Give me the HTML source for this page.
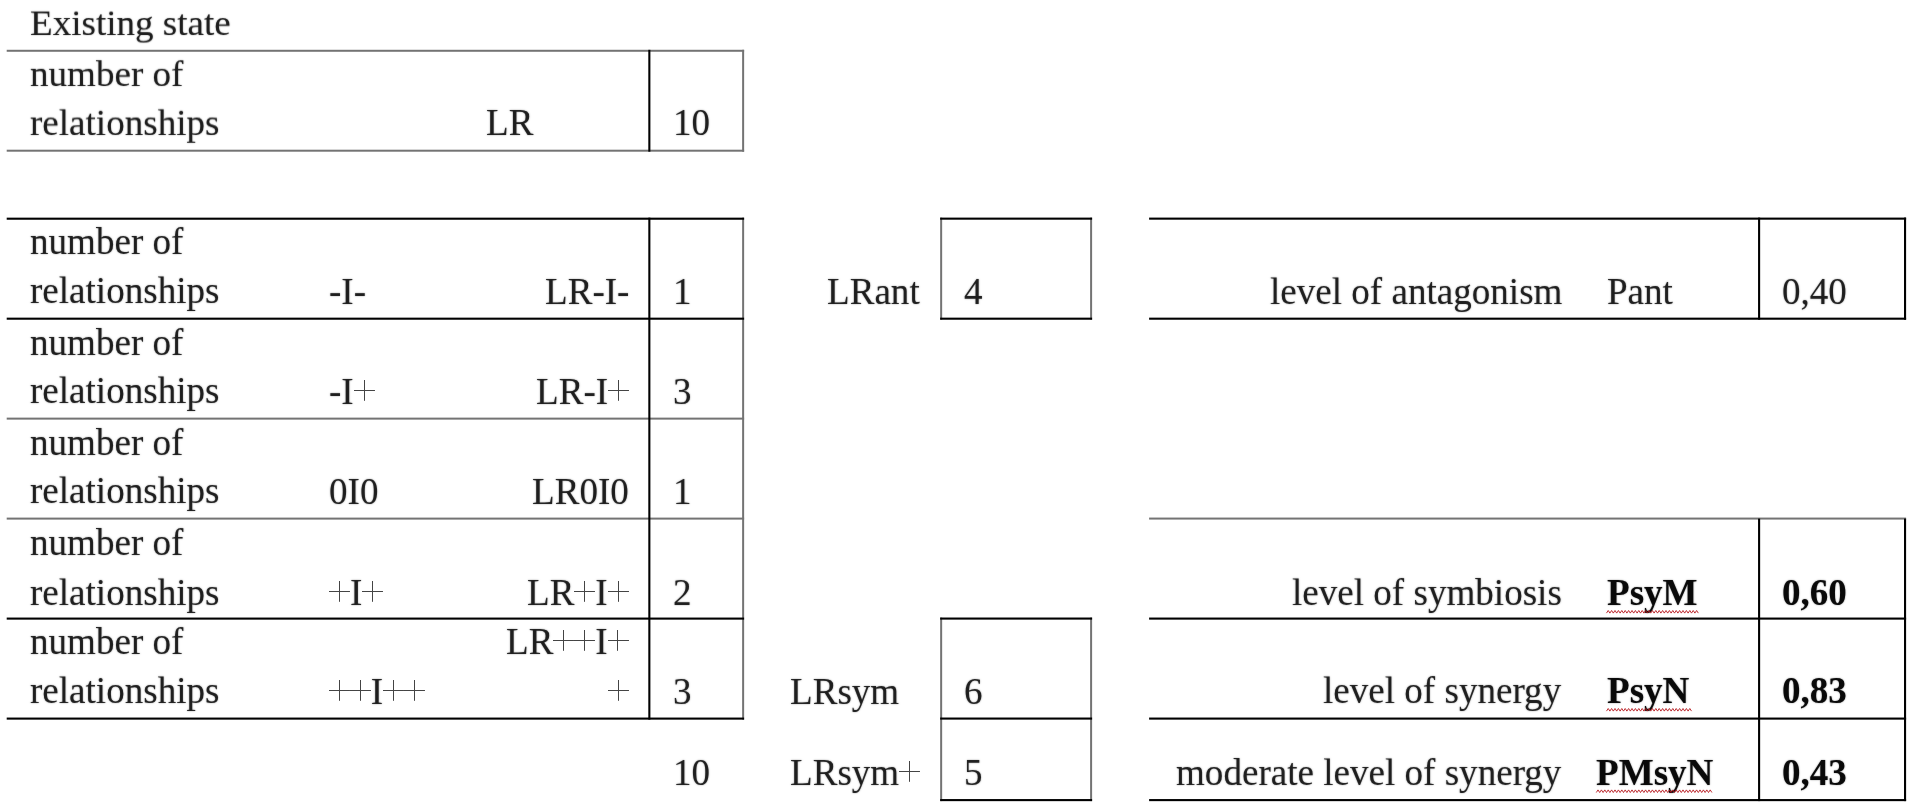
<!DOCTYPE html>
<html><head><meta charset="utf-8"><title>Existing state</title>
<style>
html,body{margin:0;padding:0;background:#fff;}
body{width:1908px;height:807px;position:relative;overflow:hidden;font-family:"Liberation Serif",serif;font-size:37.1px;color:#000;}
.l{position:absolute;}
.t{position:absolute;line-height:1;white-space:pre;color:rgba(0,0,0,0.78);text-shadow:0 0 1.6px rgba(0,0,0,0.5);will-change:transform;}
.h{position:absolute;width:0;height:0;overflow:hidden;opacity:0;}
.p{display:inline-block;width:0.564em;height:24px;vertical-align:baseline;background:linear-gradient(#444,#444) 50% 0.35px/1.25px 20.8px no-repeat,linear-gradient(#444,#444) 50% 10.1px/100% 1.2px no-repeat;}
</style></head><body>
<svg class="l" style="left:0;top:0" width="1908" height="807" viewBox="0 0 1908 807">
<rect x="6.70" y="49.78" width="737.40" height="2" fill="#737373"/>
<rect x="6.70" y="149.70" width="737.40" height="2" fill="#737373"/>
<rect x="742.13" y="49.80" width="2" height="101.90" fill="#737373"/>
<rect x="648.30" y="49.80" width="2.1" height="101.90" fill="#000"/>
<rect x="742.13" y="217.65" width="2" height="502.00" fill="#737373"/>
<rect x="6.70" y="217.65" width="737.40" height="2.1" fill="#000"/>
<rect x="6.70" y="317.64" width="737.40" height="2.1" fill="#000"/>
<rect x="6.70" y="417.62" width="737.40" height="2" fill="#737373"/>
<rect x="6.70" y="517.60" width="737.40" height="2" fill="#737373"/>
<rect x="6.70" y="617.55" width="737.40" height="2.1" fill="#000"/>
<rect x="6.70" y="717.55" width="737.40" height="2.1" fill="#000"/>
<rect x="648.30" y="217.65" width="2.1" height="502.00" fill="#000"/>
<rect x="940.15" y="217.65" width="2" height="102.05" fill="#737373"/>
<rect x="940.15" y="617.60" width="2" height="183.50" fill="#737373"/>
<rect x="1090.10" y="217.65" width="2" height="102.05" fill="#737373"/>
<rect x="1090.10" y="617.60" width="2" height="183.50" fill="#737373"/>
<rect x="940.15" y="217.60" width="151.95" height="2.1" fill="#000"/>
<rect x="940.15" y="317.64" width="151.95" height="2.1" fill="#000"/>
<rect x="940.15" y="617.52" width="151.95" height="2.1" fill="#000"/>
<rect x="940.15" y="717.52" width="151.95" height="2.1" fill="#000"/>
<rect x="940.15" y="799.05" width="151.95" height="2.1" fill="#000"/>
<rect x="1149.10" y="217.59" width="757.00" height="2.1" fill="#000"/>
<rect x="1149.10" y="317.64" width="757.00" height="2.1" fill="#000"/>
<rect x="1149.10" y="517.57" width="757.00" height="2" fill="#737373"/>
<rect x="1149.10" y="617.54" width="757.00" height="2.1" fill="#000"/>
<rect x="1149.10" y="717.54" width="757.00" height="2.1" fill="#000"/>
<rect x="1149.10" y="799.05" width="757.00" height="2.1" fill="#000"/>
<rect x="1758.05" y="217.60" width="2.1" height="102.10" fill="#000"/>
<rect x="1758.05" y="518.60" width="2.1" height="282.50" fill="#000"/>
<rect x="1904.00" y="217.60" width="2.1" height="102.10" fill="#000"/>
<rect x="1904.00" y="518.60" width="2.1" height="282.50" fill="#000"/>
</svg>
<span class="t " style="left:29.50px;transform-origin:0 31.07px;transform:scaleY(0.94);top:4.33px;">Existing state</span>
<span class="t " style="left:29.50px;transform-origin:0 31.07px;transform:scaleY(0.955);top:54.73px;">number of</span>
<span class="t " style="left:29.50px;transform-origin:0 31.07px;transform:scaleY(0.97);top:104.23px;">relationships</span>
<span class="t " style="left:485.60px;top:103.93px;">LR</span>
<span class="t " style="left:673.00px;top:103.93px;">10</span>
<span class="t " style="left:29.50px;top:222.93px;">number of</span>
<span class="t " style="left:29.50px;top:271.93px;">relationships</span>
<span class="t " style="left:329.00px;top:272.93px;">-I-</span>
<span class="t " style="right:1278.80px;top:272.93px;">LR-I-</span>
<span class="t " style="left:673.00px;top:272.93px;">1</span>
<span class="t " style="left:29.50px;top:323.93px;">number of</span>
<span class="t " style="left:29.50px;top:371.93px;">relationships</span>
<span class="t " style="left:329.00px;top:372.93px;">-I<i class="p"></i><b class="h">+</b></span>
<span class="t " style="right:1279.50px;top:372.93px;">LR-I<i class="p"></i><b class="h">+</b></span>
<span class="t " style="left:673.00px;top:372.93px;">3</span>
<span class="t " style="left:29.50px;top:423.93px;">number of</span>
<span class="t " style="left:29.50px;top:471.93px;">relationships</span>
<span class="t " style="left:329.00px;top:472.93px;">0I0</span>
<span class="t " style="right:1278.80px;top:472.93px;">LR0I0</span>
<span class="t " style="left:673.00px;top:472.93px;">1</span>
<span class="t " style="left:29.50px;top:523.93px;">number of</span>
<span class="t " style="left:29.50px;top:573.93px;">relationships</span>
<span class="t " style="left:329.00px;top:573.93px;"><i class="p"></i><b class="h">+</b>I<i class="p"></i><b class="h">+</b></span>
<span class="t " style="right:1279.50px;top:573.93px;">LR<i class="p"></i><b class="h">+</b>I<i class="p"></i><b class="h">+</b></span>
<span class="t " style="left:673.00px;top:573.93px;">2</span>
<span class="t " style="left:29.50px;top:622.93px;">number of</span>
<span class="t " style="left:29.50px;top:671.93px;">relationships</span>
<span class="t " style="left:329.00px;top:672.93px;"><i class="p"></i><b class="h">+</b><i class="p"></i><b class="h">+</b>I<i class="p"></i><b class="h">+</b><i class="p"></i><b class="h">+</b></span>
<span class="t " style="right:1279.50px;top:622.93px;">LR<i class="p"></i><b class="h">+</b><i class="p"></i><b class="h">+</b>I<i class="p"></i><b class="h">+</b></span>
<span class="t " style="right:1279.50px;top:672.93px;"><i class="p"></i><b class="h">+</b></span>
<span class="t " style="left:673.00px;top:672.93px;">3</span>
<span class="t " style="left:673.00px;top:753.93px;">10</span>
<span class="t " style="right:988.50px;top:272.93px;">LRant</span>
<span class="t " style="left:790.00px;top:672.93px;">LRsym</span>
<span class="t " style="left:790.00px;top:753.93px;">LRsym<i class="p"></i><b class="h">+</b></span>
<span class="t " style="left:964.00px;top:272.93px;">4</span>
<span class="t " style="left:964.00px;top:672.93px;">6</span>
<span class="t " style="left:964.00px;top:753.93px;">5</span>
<span class="t " style="right:345.70px;top:272.93px;">level of antagonism</span>
<span class="t " style="left:1607.00px;top:272.93px;">Pant</span>
<span class="t " style="left:1782.00px;top:272.93px;">0,40</span>
<span class="t " style="right:346.50px;top:573.93px;">level of symbiosis</span>
<span class="t " style="left:1607.00px;top:573.93px;font-weight:bold;color:rgba(0,0,0,0.93);">PsyM</span>
<svg class="l" style="left:1604px;top:607px" width="98" height="9" viewBox="0 0 98 9"><polyline points="2.50,6.10 4.20,3.50 5.90,6.10 7.60,3.50 9.30,6.10 11.00,3.50 12.70,6.10 14.40,3.50 16.10,6.10 17.80,3.50 19.50,6.10 21.20,3.50 22.90,6.10 24.60,3.50 26.30,6.10 28.00,3.50 29.70,6.10 31.40,3.50 33.10,6.10 34.80,3.50 36.50,6.10 38.20,3.50 39.90,6.10 41.60,3.50 43.30,6.10 45.00,3.50 46.70,6.10 48.40,3.50 50.10,6.10 51.80,3.50 53.50,6.10 55.20,3.50 56.90,6.10 58.60,3.50 60.30,6.10 62.00,3.50 63.70,6.10 65.40,3.50 67.10,6.10 68.80,3.50 70.50,6.10 72.20,3.50 73.90,6.10 75.60,3.50 77.30,6.10 79.00,3.50 80.70,6.10 82.40,3.50 84.10,6.10 85.80,3.50 87.50,6.10 89.20,3.50 90.90,6.10 92.60,3.50 94.30,6.10" fill="none" stroke="#b5161c" stroke-width="0.9" stroke-linejoin="miter"/></svg>
<span class="t " style="left:1782.00px;top:573.93px;font-weight:bold;color:rgba(0,0,0,0.93);">0,60</span>
<span class="t " style="right:346.50px;top:671.93px;">level of synergy</span>
<span class="t " style="left:1607.00px;top:671.93px;font-weight:bold;color:rgba(0,0,0,0.93);">PsyN</span>
<svg class="l" style="left:1604px;top:705px" width="90" height="9" viewBox="0 0 90 9"><polyline points="2.50,6.10 4.20,3.50 5.90,6.10 7.60,3.50 9.30,6.10 11.00,3.50 12.70,6.10 14.40,3.50 16.10,6.10 17.80,3.50 19.50,6.10 21.20,3.50 22.90,6.10 24.60,3.50 26.30,6.10 28.00,3.50 29.70,6.10 31.40,3.50 33.10,6.10 34.80,3.50 36.50,6.10 38.20,3.50 39.90,6.10 41.60,3.50 43.30,6.10 45.00,3.50 46.70,6.10 48.40,3.50 50.10,6.10 51.80,3.50 53.50,6.10 55.20,3.50 56.90,6.10 58.60,3.50 60.30,6.10 62.00,3.50 63.70,6.10 65.40,3.50 67.10,6.10 68.80,3.50 70.50,6.10 72.20,3.50 73.90,6.10 75.60,3.50 77.30,6.10 79.00,3.50 80.70,6.10 82.40,3.50 84.10,6.10 85.80,3.50 87.50,6.10" fill="none" stroke="#b5161c" stroke-width="0.9" stroke-linejoin="miter"/></svg>
<span class="t " style="left:1782.00px;top:671.93px;font-weight:bold;color:rgba(0,0,0,0.93);">0,83</span>
<span class="t " style="right:346.50px;top:753.93px;">moderate level of synergy</span>
<span class="t " style="left:1596.00px;top:753.93px;font-weight:bold;color:rgba(0,0,0,0.93);">PMsyN</span>
<svg class="l" style="left:1594px;top:787px" width="120" height="9" viewBox="0 0 120 9"><polyline points="2.30,5.50 4.00,2.90 5.70,5.50 7.40,2.90 9.10,5.50 10.80,2.90 12.50,5.50 14.20,2.90 15.90,5.50 17.60,2.90 19.30,5.50 21.00,2.90 22.70,5.50 24.40,2.90 26.10,5.50 27.80,2.90 29.50,5.50 31.20,2.90 32.90,5.50 34.60,2.90 36.30,5.50 38.00,2.90 39.70,5.50 41.40,2.90 43.10,5.50 44.80,2.90 46.50,5.50 48.20,2.90 49.90,5.50 51.60,2.90 53.30,5.50 55.00,2.90 56.70,5.50 58.40,2.90 60.10,5.50 61.80,2.90 63.50,5.50 65.20,2.90 66.90,5.50 68.60,2.90 70.30,5.50 72.00,2.90 73.70,5.50 75.40,2.90 77.10,5.50 78.80,2.90 80.50,5.50 82.20,2.90 83.90,5.50 85.60,2.90 87.30,5.50 89.00,2.90 90.70,5.50 92.40,2.90 94.10,5.50 95.80,2.90 97.50,5.50 99.20,2.90 100.90,5.50 102.60,2.90 104.30,5.50 106.00,2.90 107.70,5.50 109.40,2.90 111.10,5.50 112.80,2.90 114.50,5.50 116.20,2.90 117.90,5.50" fill="none" stroke="#b5161c" stroke-width="0.9" stroke-linejoin="miter"/></svg>
<span class="t " style="left:1782.00px;top:753.93px;font-weight:bold;color:rgba(0,0,0,0.93);">0,43</span>
</body></html>
